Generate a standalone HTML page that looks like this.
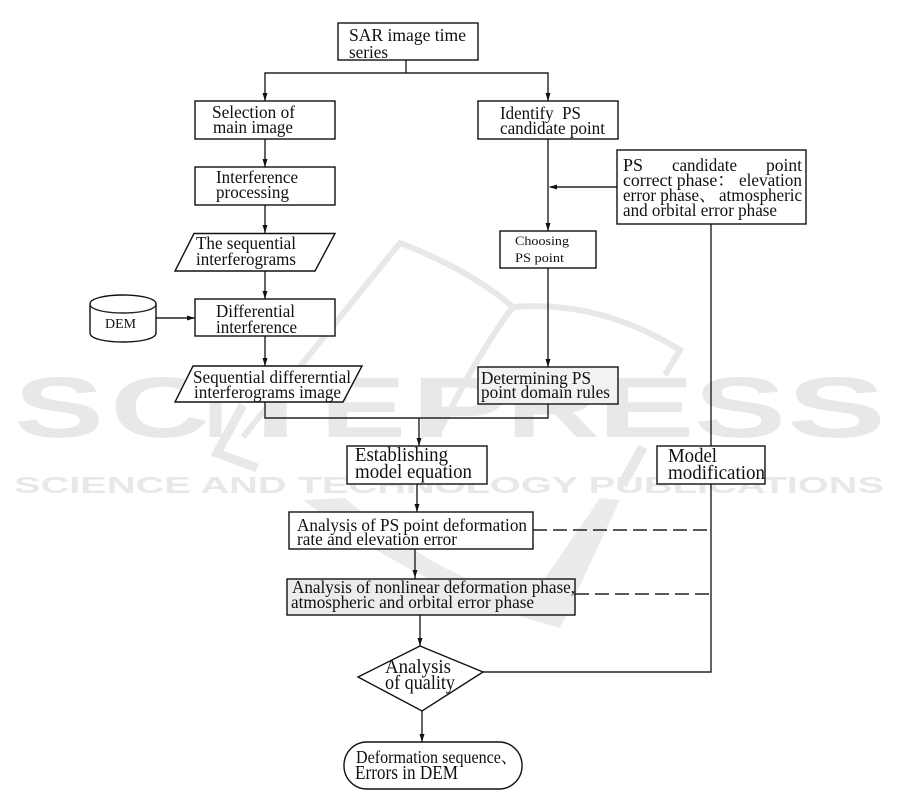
<!DOCTYPE html>
<html><head><meta charset="utf-8"><style>
html,body{margin:0;padding:0;background:#fff}
svg{display:block}
.t{font-family:"Liberation Serif","Noto Serif CJK SC",serif;font-size:17.5px;fill:#111}
.b{fill:#fff;stroke:#111;stroke-width:1.4}
.l{fill:none;stroke:#222;stroke-width:1.4}
.a{fill:#111;stroke:none}
.w{fill:none;stroke:#e8e8e8;stroke-width:6}
.W{font-family:"Liberation Sans",sans-serif;font-weight:bold;font-size:86px;fill:#e8e8e8}
</style></head><body>
<svg width="901" height="793" viewBox="0 0 901 793" xmlns="http://www.w3.org/2000/svg">
<rect width="901" height="793" fill="#fff"/>
<!-- watermark -->
<g>
<path class="w" d="M243 437L400 243Q470 270 513 307Q600 300 680 350L665 375"/>
<path class="w" d="M513 307Q480 350 440 430"/>
<path class="w" d="M243 405L217 453L257 468" style="stroke-width:9"/>
<path class="w" d="M643 447L622 485" style="stroke-width:10"/>
<path d="M303 500L345 498Q440 580 530 600L600 498L620 500L560 628Q420 590 303 500Z" fill="#ebebeb"/>
<g class="W">
<text x="14" y="437" textLength="90" lengthAdjust="spacingAndGlyphs">S</text>
<text x="110" y="437" textLength="100" lengthAdjust="spacingAndGlyphs">C</text>
<text x="204" y="437" textLength="23" lengthAdjust="spacingAndGlyphs">I</text>
<text x="228" y="437" textLength="95" lengthAdjust="spacingAndGlyphs">T</text>
<text x="320" y="437" textLength="86" lengthAdjust="spacingAndGlyphs">E</text>
<text x="411" y="437" textLength="98" lengthAdjust="spacingAndGlyphs">P</text>
<text x="506" y="437" textLength="94" lengthAdjust="spacingAndGlyphs">R</text>
<text x="597" y="437" textLength="98" lengthAdjust="spacingAndGlyphs">E</text>
<text x="694" y="437" textLength="92" lengthAdjust="spacingAndGlyphs">S</text>
<text x="787" y="437" textLength="99" lengthAdjust="spacingAndGlyphs">S</text>
</g>
<text x="14" y="493" font-family="Liberation Sans" font-weight="bold" font-size="23" fill="#e8e8e8" textLength="870" lengthAdjust="spacingAndGlyphs">SCIENCE AND TECHNOLOGY PUBLICATIONS</text>
</g>
<!-- connectors -->
<path class="l" d="M406 60V73M265 101V73H548V101"/>
<path class="l" d="M265 139V167M265 205V233M265 271V299M265 336V366"/>
<path class="l" d="M156 318H195"/>
<path class="l" d="M265 402V418H548V404M419 418V446M417 484V512M415 549V579M420 615V646M422 711V742"/>
<path class="l" d="M548 139V231M548 268V367M617 187H550"/>
<path class="l" d="M711 224V446M711 484V672H483"/>
<path class="l" d="M533 530H711M575 594H711" stroke-dasharray="14 6"/>
<!-- arrowheads -->
<g class="a">
<polygon points="265,101 262.5,93 267.5,93"/>
<polygon points="548,101 545.500,93 550.500,93"/>
<polygon points="265,167 262.500,159 267.500,159"/>
<polygon points="265,233 262.500,225 267.500,225"/>
<polygon points="265,299 262.500,291 267.500,291"/>
<polygon points="265,366 262.500,358 267.500,358"/>
<polygon points="195,318 187,315.500 187,320.500"/>
<polygon points="548,231 545.500,223 550.500,223"/>
<polygon points="548,367 545.500,359 550.500,359"/>
<polygon points="549,187 557,184.500 557,189.500"/>
<polygon points="419,446 416.500,438 421.500,438"/>
<polygon points="417,512 414.500,504 419.500,504"/>
<polygon points="415,578 412.500,570 417.500,570"/>
<polygon points="420,646 417.500,638 422.500,638"/>
<polygon points="422,742 419.500,734 424.500,734"/>
</g>
<!-- nodes -->
<rect class="b" x="338" y="23" width="140" height="37"/>
<rect class="b" x="195" y="101" width="140" height="38"/>
<rect class="b" x="195" y="167" width="140" height="38"/>
<polygon class="b" points="194,233.500 335,233.500 315,271 175,271"/>
<rect class="b" x="195" y="299" width="140" height="37"/>
<path class="b" d="M90 304C90 292 156 292 156 304V333C156 345 90 345 90 333Z"/>
<path class="l" d="M90 304C90 316 156 316 156 304"/>
<polygon class="b" points="193,366 362,366 343,402 175,402"/>
<rect class="b" x="478" y="101" width="140" height="38"/>
<rect class="b" x="617" y="150" width="189" height="74"/>
<rect class="b" x="500" y="231" width="96" height="37"/>
<rect class="b" x="478" y="367" width="140" height="37" style="fill:#f2f2f2"/>
<rect class="b" x="347" y="446" width="140" height="38"/>
<rect class="b" x="657" y="446" width="108" height="38"/>
<rect class="b" x="289" y="512" width="244" height="37"/>
<rect class="b" x="287" y="579" width="288" height="36" style="fill:#ececec"/>
<polygon class="b" points="420,646 483,672 422,711 358,677"/>
<rect class="b" x="344" y="742" width="178" height="47" rx="23" ry="23"/>
<!-- labels -->
<g class="t">
<text x="349" y="41" textLength="117" lengthAdjust="spacingAndGlyphs">SAR image time</text>
<text x="349" y="58" textLength="39" lengthAdjust="spacingAndGlyphs">series</text>
<text x="212" y="118" textLength="83" lengthAdjust="spacingAndGlyphs">Selection of</text>
<text x="213" y="133" textLength="80" lengthAdjust="spacingAndGlyphs">main image</text>
<text x="216" y="183" textLength="82" lengthAdjust="spacingAndGlyphs">Interference</text>
<text x="216" y="198" textLength="73" lengthAdjust="spacingAndGlyphs">processing</text>
<text x="196" y="249" textLength="100" lengthAdjust="spacingAndGlyphs">The sequential</text>
<text x="196" y="265" textLength="100" lengthAdjust="spacingAndGlyphs">interferograms</text>
<text x="216" y="317" textLength="79" lengthAdjust="spacingAndGlyphs">Differential</text>
<text x="216" y="333" textLength="81" lengthAdjust="spacingAndGlyphs">interference</text>
<text x="105" y="328" textLength="31" lengthAdjust="spacingAndGlyphs" style="font-size:14px">DEM</text>
<text x="193" y="383" textLength="158" lengthAdjust="spacingAndGlyphs">Sequential differerntial</text>
<text x="194" y="398" textLength="147" lengthAdjust="spacingAndGlyphs">interferograms image</text>
<text x="500" y="119" textLength="81" xml:space="preserve" lengthAdjust="spacingAndGlyphs">Identify  PS</text>
<text x="500" y="134" textLength="105" lengthAdjust="spacingAndGlyphs">candidate point</text>
<text x="623" y="171" textLength="20" lengthAdjust="spacingAndGlyphs">PS</text>
<text x="672" y="171" textLength="65" lengthAdjust="spacingAndGlyphs">candidate</text>
<text x="766" y="171" textLength="36" lengthAdjust="spacingAndGlyphs">point</text>
<text x="623" y="186" textLength="112" lengthAdjust="spacingAndGlyphs">correct phase：</text>
<text x="739" y="186" textLength="63" lengthAdjust="spacingAndGlyphs">elevation</text>
<text x="623" y="201" textLength="93" lengthAdjust="spacingAndGlyphs">error phase、</text>
<text x="719" y="201" textLength="83" lengthAdjust="spacingAndGlyphs">atmospheric</text>
<text x="623" y="216" textLength="154" lengthAdjust="spacingAndGlyphs">and orbital error phase</text>
<text x="515" y="245" textLength="54" lengthAdjust="spacingAndGlyphs" style="font-size:13px">Choosing</text>
<text x="515" y="262" textLength="49" lengthAdjust="spacingAndGlyphs" style="font-size:13px">PS point</text>
<text x="481" y="384" textLength="110" lengthAdjust="spacingAndGlyphs">Determining PS</text>
<text x="481" y="398" textLength="129" lengthAdjust="spacingAndGlyphs">point domain rules</text>
<text x="355" y="461" textLength="93" lengthAdjust="spacingAndGlyphs" style="font-size:19.5px">Establishing</text>
<text x="355" y="478" textLength="117" lengthAdjust="spacingAndGlyphs" style="font-size:19.5px">model equation</text>
<text x="668" y="462" textLength="49" lengthAdjust="spacingAndGlyphs" style="font-size:19.5px">Model</text>
<text x="668" y="479" textLength="97" lengthAdjust="spacingAndGlyphs" style="font-size:19.5px">modification</text>
<text x="297" y="531" textLength="230" lengthAdjust="spacingAndGlyphs">Analysis of PS point deformation</text>
<text x="297" y="545" textLength="160" lengthAdjust="spacingAndGlyphs">rate and elevation error</text>
<text x="292" y="593" textLength="283" lengthAdjust="spacingAndGlyphs">Analysis of nonlinear deformation phase,</text>
<text x="291" y="608" textLength="243" lengthAdjust="spacingAndGlyphs">atmospheric and orbital error phase</text>
<text x="385" y="673" textLength="66" lengthAdjust="spacingAndGlyphs" style="font-size:19.5px">Analysis</text>
<text x="385" y="689" textLength="70" lengthAdjust="spacingAndGlyphs" style="font-size:19.5px">of quality</text>
<text x="356" y="763" textLength="161" lengthAdjust="spacingAndGlyphs">Deformation sequence、</text>
<text x="355" y="779" textLength="103" lengthAdjust="spacingAndGlyphs" style="font-size:19.5px">Errors in DEM</text>
</g>
</svg>
</body></html>
